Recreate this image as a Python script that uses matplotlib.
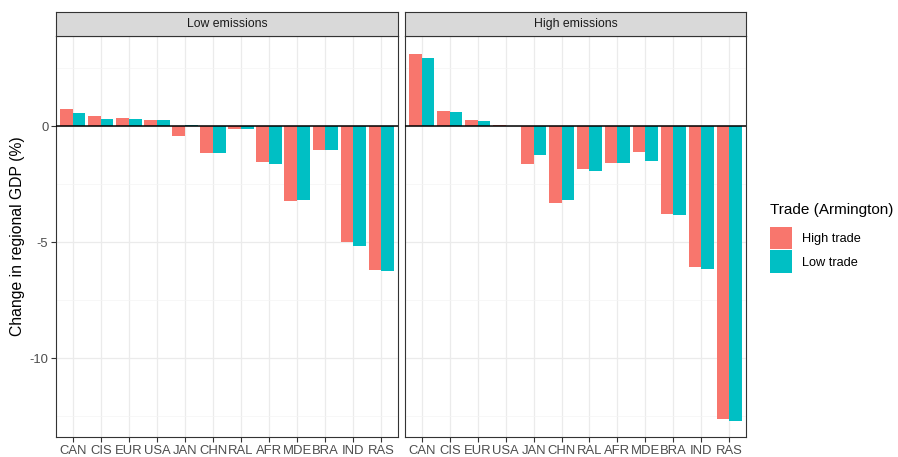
import numpy as np
import matplotlib
matplotlib.use("Agg")
import matplotlib.pyplot as plt
from matplotlib.patches import Patch

plt.rcParams["font.family"] = ["Liberation Sans", "DejaVu Sans"]
plt.rcParams["axes.unicode_minus"] = False

# data
regions = ["CAN", "CIS", "EUR", "USA", "JAN", "CHN", "RAL", "AFR", "MDE", "BRA", "IND", "RAS"]
panels = ["Low emissions", "High emissions"]
trades = ["High trade", "Low trade"]

low_em_high_trade = [0.73, 0.43, 0.34, 0.26, -0.43, -1.15, -0.13, -1.54, -3.22, -1.02, -4.99, -6.21]
low_em_low_trade = [0.55, 0.29, 0.29, 0.26, 0.05, -1.15, -0.13, -1.62, -3.19, -1.05, -5.17, -6.24]
high_em_high_trade = [3.12, 0.66, 0.25, 0.06, -1.62, -3.30, -1.85, -1.58, -1.10, -3.81, -6.07, -12.63]
high_em_low_trade = [2.95, 0.59, 0.22, 0.01, -1.26, -3.20, -1.92, -1.59, -1.49, -3.83, -6.15, -12.70]

series = {
    "Low emissions": [low_em_high_trade, low_em_low_trade],
    "High emissions": [high_em_high_trade, high_em_low_trade],
}
colors = ["#F8766D", "#00BFC4"]

W, H = 898, 457
fig = plt.figure(figsize=(W / 100, H / 100), dpi=100)

def px(x0, y0, x1, y1):
    # pixel box -> figure fraction rect
    return [x0 / W, 1 - y1 / H, (x1 - x0) / W, (y1 - y0) / H]

panel_x = [(56, 398), (405, 746)]
top, bottom, strip_top = 36, 437, 12
ymin, ymax = -13.4, 3.88
x = np.arange(len(regions))
bw = 0.45

for i, name in enumerate(panels):
    x0, x1 = panel_x[i]
    ax = fig.add_axes(px(x0, top, x1, bottom))
    for j, vals in enumerate(series[name]):
        ax.bar(x + (j - 0.5) * bw, vals, width=bw, color=colors[j], zorder=3)
    ax.axhline(0, color="black", lw=1.1, zorder=4)
    ax.set_xlim(-0.6, len(regions) - 0.4)
    ax.set_ylim(ymin, ymax)
    ax.set_xticks(x)
    ax.set_xticklabels(regions)
    ax.set_yticks([0, -5, -10])
    ax.set_yticks([2.5, -2.5, -7.5, -12.5], minor=True)
    ax.grid(True, which="major", color="#EBEBEB", lw=0.9, zorder=0)
    ax.grid(True, which="minor", axis="y", color="#F4F4F4", lw=0.5, zorder=0)
    ax.set_axisbelow(True)
    ax.tick_params(axis="both", which="major", length=3.5, width=0.8, color="#333333",
                   labelsize=9.4, labelcolor="#4D4D4D", pad=2)
    ax.tick_params(axis="y", which="minor", length=0)
    if i == 1:
        ax.tick_params(axis="y", which="major", length=0, labelleft=False)
    for s in ax.spines.values():
        s.set_color("#333333")
        s.set_linewidth(0.8)

    sax = fig.add_axes(px(x0, strip_top, x1, top))
    sax.set_facecolor("#D9D9D9")
    sax.set_xticks([])
    sax.set_yticks([])
    for s in sax.spines.values():
        s.set_color("#333333")
        s.set_linewidth(0.8)
    sax.text(0.5, 0.5, name, ha="center", va="center", fontsize=8.8,
             color="#1A1A1A", transform=sax.transAxes)

fig.text(18 / W, 1 - ((top + bottom) / 2) / H, "Change in regional GDP (%)",
         rotation=90, ha="center", va="center", fontsize=11.3)

handles = [Patch(facecolor=c, edgecolor="none") for c in colors]
leg = fig.legend(handles, trades, loc="upper left", bbox_to_anchor=(770 / W, 1 - 203 / H),
                 frameon=False, borderpad=0, borderaxespad=0,
                 title="Trade (Armington)", title_fontsize=11, fontsize=9.2,
                 handlelength=1.72, handleheight=2.3, handletextpad=0.8, labelspacing=0.12)
leg._legend_box.align = "left"
leg._legend_box.sep = 7  # a bit more room under the title

fig.savefig("out.png", dpi=100)
